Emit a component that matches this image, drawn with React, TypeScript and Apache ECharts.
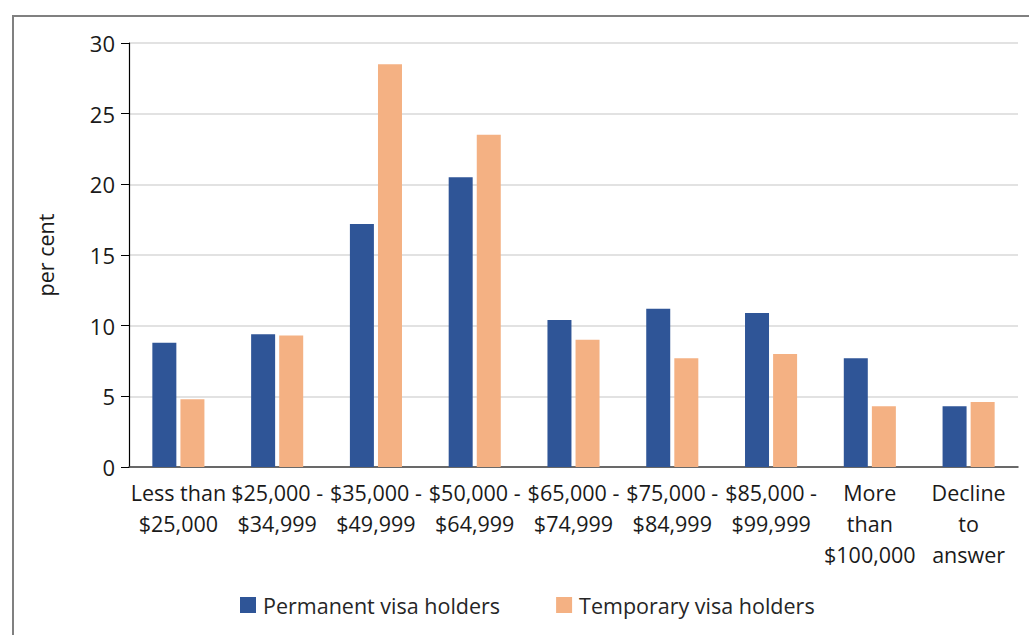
import React, { useEffect, useRef } from "react";
import * as echarts from "echarts";

const categories = [
  "Less than\n$25,000",
  "$25,000 -\n$34,999",
  "$35,000 -\n$49,999",
  "$50,000 -\n$64,999",
  "$65,000 -\n$74,999",
  "$75,000 -\n$84,999",
  "$85,000 -\n$99,999",
  "More\nthan\n$100,000",
  "Decline\nto\nanswer",
];
const permanent = [8.8, 9.4, 17.2, 20.5, 10.4, 11.2, 10.9, 7.7, 4.3];
const temporary = [4.8, 9.3, 28.5, 23.5, 9.0, 7.7, 8.0, 4.3, 4.6];
const seriesNames = ["Permanent visa holders", "Temporary visa holders"];

const FONT = "'Open Sans', 'Noto Sans', sans-serif";

export default function App() {
  const ref = useRef<HTMLDivElement>(null);
  useEffect(() => {
    if (!ref.current) return;
    const chart = echarts.init(ref.current, null, { renderer: "svg" });
    chart.setOption({
      animation: false,
      backgroundColor: "#ffffff",
      textStyle: { fontFamily: FONT },
      graphic: [
        {
          type: "rect",
          shape: { x: 13, y: 16, width: 1100, height: 700 },
          style: { fill: "none", stroke: "#808080", lineWidth: 2 },
          silent: true,
        },
      ],
      grid: { left: 129, right: 11, top: 43, bottom: 168, containLabel: false },
      legend: {
        data: seriesNames,
        left: 235,
        top: 589,
        itemWidth: 16,
        itemHeight: 16,
        itemGap: 56,
        icon: "rect",
        textStyle: { fontFamily: FONT, fontSize: 21.5, color: "#262626", padding: [0, 0, 0, 2] },
      },
      xAxis: {
        type: "category",
        data: categories,
        axisTick: { show: false },
        axisLine: { lineStyle: { color: "#404040", width: 1.5 } },
        axisLabel: {
          interval: 0,
          color: "#1a1a1a",
          fontFamily: FONT,
          fontSize: 21.5,
          lineHeight: 31,
          margin: 10,
        },
      },
      yAxis: {
        type: "value",
        min: 0,
        max: 30,
        interval: 5,
        name: "per cent",
        nameLocation: "middle",
        nameGap: 73,
        nameTextStyle: { fontFamily: FONT, fontSize: 21.5, color: "#1a1a1a" },
        axisLine: { show: true, lineStyle: { color: "#000000", width: 1.2 } },
        axisTick: { show: true, length: 8, lineStyle: { color: "#000000" } },
        axisLabel: { color: "#1a1a1a", fontFamily: FONT, fontSize: 22, margin: 14 },
        splitLine: { lineStyle: { color: "#D9D9D9", width: 1.5 } },
      },
      series: [
        {
          name: seriesNames[0],
          type: "bar",
          data: permanent,
          barWidth: 24,
          barGap: "17%",
          itemStyle: { color: "#2F5597" },
        },
        {
          name: seriesNames[1],
          type: "bar",
          data: temporary,
          barWidth: 24,
          barGap: "17%",
          itemStyle: { color: "#F4B183" },
        },
      ],
    });
    return () => chart.dispose();
  }, []);
  return (
    <div
      ref={ref}
      style={{ position: "fixed", left: 0, top: 0, width: 1029, height: 635, background: "#fff" }}
    />
  );
}
